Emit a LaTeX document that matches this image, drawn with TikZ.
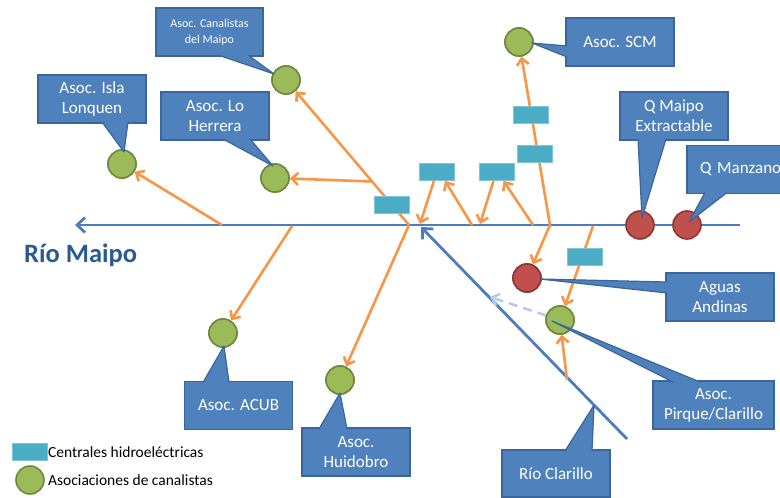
\documentclass[tikz,border=0pt]{standalone}
\usepackage{fontspec}
\setmainfont{Carlito}
\usetikzlibrary{arrows.meta,calc}
\definecolor{cbox}{HTML}{4F81BD}
\definecolor{cboxd}{HTML}{3A669E}
\definecolor{riverblue}{HTML}{4A7EBF}
\definecolor{lightblue}{HTML}{B7CBE6}
\definecolor{oline}{HTML}{F79646}
\definecolor{gfill}{HTML}{9BBB59}
\definecolor{gdraw}{HTML}{71893F}
\definecolor{rfill}{HTML}{C0504D}
\definecolor{rdraw}{HTML}{8C3836}
\definecolor{teal}{HTML}{4BACC6}
\definecolor{titleblue}{HTML}{2A5A94}
\tikzset{
  riverline/.style={draw=riverblue, line width=2.8pt},
  oarr/.style={draw=oline, line width=2.6pt, -{Straight Barb[length=6.5pt,width=12pt]}},
  hydro/.style={rectangle, fill=teal, draw=teal!70!white, line width=0.6pt, minimum width=35pt, minimum height=17pt, inner sep=0pt},
  gcirc/.style={circle, fill=gfill, draw=gdraw, line width=1.6pt, minimum size=28pt, inner sep=0pt},
  rcirc/.style={circle, fill=rfill, draw=rdraw, line width=1.6pt, minimum size=28pt, inner sep=0pt},
  callout/.style={rectangle, fill=cbox, draw=cboxd, line width=1.2pt, text=white, minimum width=108pt, minimum height=48pt, align=center, inner sep=2pt, font=\fontsize{17}{20}\selectfont},
  ptr/.style={fill=cbox, draw=cboxd, line width=1.2pt, line join=round},
  legtext/.style={anchor=west, inner sep=0pt, font=\fontsize{15.5}{18}\selectfont},
}
\begin{document}
\begin{tikzpicture}[x=1pt,y=-1pt]
\clip (0,0) rectangle (780,498);
\fill[white] (0,0) rectangle (780,498);

% river coordinates
\coordinate (rivE) at (740,225);
\coordinate (rivW) at (75,225);
\coordinate (clarEnd) at (627,439);
\coordinate (clarTip) at (421,227);

% main rivers
\draw[riverline, -{Straight Barb[length=8pt,width=15pt]}] (rivE) -- (rivW);
\draw[riverline, -{Straight Barb[length=8pt,width=15pt]}] (clarEnd) -- (clarTip);

% circles
\node[gcirc] (canalc) at (286,80) {};
\node[gcirc] (lonc) at (122,164) {};
\node[gcirc] (herrc) at (275,178) {};
\node[gcirc] (scmc) at (519,42) {};
\node[gcirc] (acubc) at (223,333) {};
\node[gcirc] (huidc) at (340,380) {};
\node[gcirc] (pirqc) at (560,320) {};
\node[rcirc] (qmaic) at (640,225) {};
\node[rcirc] (qmanc) at (687,225) {};
\node[rcirc] (aguasc) at (527,278) {};

% orange start points
\coordinate (o1) at (222,225);
\coordinate (o2) at (409,225);
\coordinate (o2b) at ($(o2)!0.3!(canalc)$);
\coordinate (o5) at (292,226);
\coordinate (o7) at (472,225);
\coordinate (o9) at (533,225);
\coordinate (o10) at (550,225);
\coordinate (o12) at (593,226);
\coordinate (o13) at (567,380);
\coordinate (e6) at (420,224);
\coordinate (e8) at (480,224);
\coordinate (dashEnd) at (490,297);

% hydro plants
\node[hydro] (h1) at (392,205) {};
\node[hydro] (h2) at (437,172) {};
\node[hydro] (h3) at (496.5,172) {};
\node[hydro] (h4) at (534.5,153.5) {};
\node[hydro] (h5) at (530.5,115) {};
\node[hydro] (h6) at (584.5,256.5) {};

% dashed light arrow
\draw[draw=lightblue, line width=2.6pt, dash pattern=on 9pt off 6pt, -{Straight Barb[length=6.5pt,width=12pt]}] (pirqc) -- (dashEnd);

% orange connectors
\draw[oarr] (o1) -- (lonc);
\draw[oarr] (o2) -- (canalc);
\draw[oarr] (o2b) -- (herrc);
\draw[oarr] (o2) -- (huidc);
\draw[oarr] (o5) -- (acubc);
\draw[oarr] ([xshift=-3pt]h2.south) -- (e6);
\draw[oarr] (o7) -- ([xshift=8pt]h2.south);
\draw[oarr] ([xshift=-3pt]h3.south) -- (e8);
\draw[oarr] (o9) -- ([xshift=7pt]h3.south);
\draw[oarr] (o10) -- (scmc);
\draw[oarr] (o10) -- (aguasc);
\draw[oarr] (o12) -- (pirqc);
\draw[oarr] (o13) -- (pirqc);

% redraw plants and circles on top
\node[hydro] at (h1) {};
\node[hydro] at (h4) {};
\node[hydro] at (h5) {};
\node[hydro] at (h6) {};
\node[gcirc] at (pirqc) {};
\node[gcirc] at (canalc) {};
\node[gcirc] at (lonc) {};
\node[gcirc] at (herrc) {};
\node[gcirc] at (scmc) {};
\node[gcirc] at (acubc) {};
\node[gcirc] at (huidc) {};
\node[rcirc] at (aguasc) {};

% callouts
\node[callout, font=\fontsize{12}{16}\selectfont, minimum width=107pt] (canal) at (209.5,32) {Asoc. Canalistas\\del Maipo};
\filldraw[ptr] ([xshift=8.5pt,yshift=1.6pt]canal.south) -- ($(canalc)+(-12,-6)$) -- ([xshift=38.5pt,yshift=1.6pt]canal.south);

\node[callout] (lon) at (92,99) {Asoc. Isla\\Lonquen};
\filldraw[ptr] ([xshift=10pt,yshift=1.6pt]lon.south) -- ($(lonc)+(2,-12)$) -- ([xshift=36pt,yshift=1.6pt]lon.south);

\node[callout] (herr) at (215,116) {Asoc. Lo\\Herrera};
\filldraw[ptr] ([xshift=8pt,yshift=1.6pt]herr.south) -- ($(herrc)+(-2,-12)$) -- ([xshift=35pt,yshift=1.6pt]herr.south);

\node[callout] (scm) at (620,42) {Asoc. SCM};
\filldraw[ptr] ([xshift=1.6pt,yshift=-4pt]scm.west) -- ($(scmc)+(13,1)$) -- ([xshift=1.6pt,yshift=-15pt]scm.west);

\node[callout] (qmai) at (674,116) {Q Maipo\\Extractable};
\filldraw[ptr] ([xshift=-36pt,yshift=1.6pt]qmai.south) -- ($(qmaic)+(2,-7)$) -- ([xshift=-8pt,yshift=1.6pt]qmai.south);

\node[callout, text width=100pt, align=left] (qman) at (741,169.5) {\hspace*{9pt}Q Manzano};
\filldraw[ptr] ([xshift=-36pt,yshift=1.6pt]qman.south) -- ($(qmanc)+(2,-3)$) -- ([xshift=-14pt,yshift=1.6pt]qman.south);

\node[callout] (aguas) at (720,297) {Aguas\\Andinas};
\filldraw[ptr] ([xshift=1.6pt,yshift=15pt]aguas.west) -- ($(aguasc)+(13,1)$) -- ([xshift=1.6pt,yshift=4pt]aguas.west);

\node[callout, minimum width=121pt] (pirq) at (713.5,405) {Asoc.\\Pirque/Clarillo};
\filldraw[ptr] ([xshift=-40.5pt,yshift=-1.6pt]pirq.north) -- ($(pirqc)+(-8,1)$) -- ([xshift=-13.5pt,yshift=-1.6pt]pirq.north);

\node[callout, minimum height=47pt] (clar) at (556,473.5) {Río Clarillo};
\filldraw[ptr] ([xshift=9pt,yshift=-1.6pt]clar.north) -- ($(clarEnd)!0.16!(clarTip)$) -- ([xshift=36pt,yshift=-1.6pt]clar.north);

\node[callout] (acub) at (238.5,405.5) {Asoc. ACUB};
\filldraw[ptr] ([xshift=-35.5pt,yshift=-1.6pt]acub.north) -- ($(acubc)+(1,13)$) -- ([xshift=-9.5pt,yshift=-1.6pt]acub.north);

\node[callout] (huid) at (356,452) {Asoc.\\Huidobro};
\filldraw[ptr] ([xshift=-37pt,yshift=-1.6pt]huid.north) -- ($(huidc)+(0,13)$) -- ([xshift=-9pt,yshift=-1.6pt]huid.north);

% title
\node[anchor=west, text=titleblue, font=\fontsize{26.5}{30}\selectfont\bfseries, inner sep=0pt] (title) at (24,255) {Río Maipo};

% legend
\node[hydro] (lh) at (29.5,451.5) {};
\node[legtext] (lt1) at (48,452) {Centrales hidroeléctricas};
\node[gcirc] (lg) at (30,480) {};
\node[legtext] (lt2) at (48,480) {Asociaciones de canalistas};
\end{tikzpicture}
\end{document}
